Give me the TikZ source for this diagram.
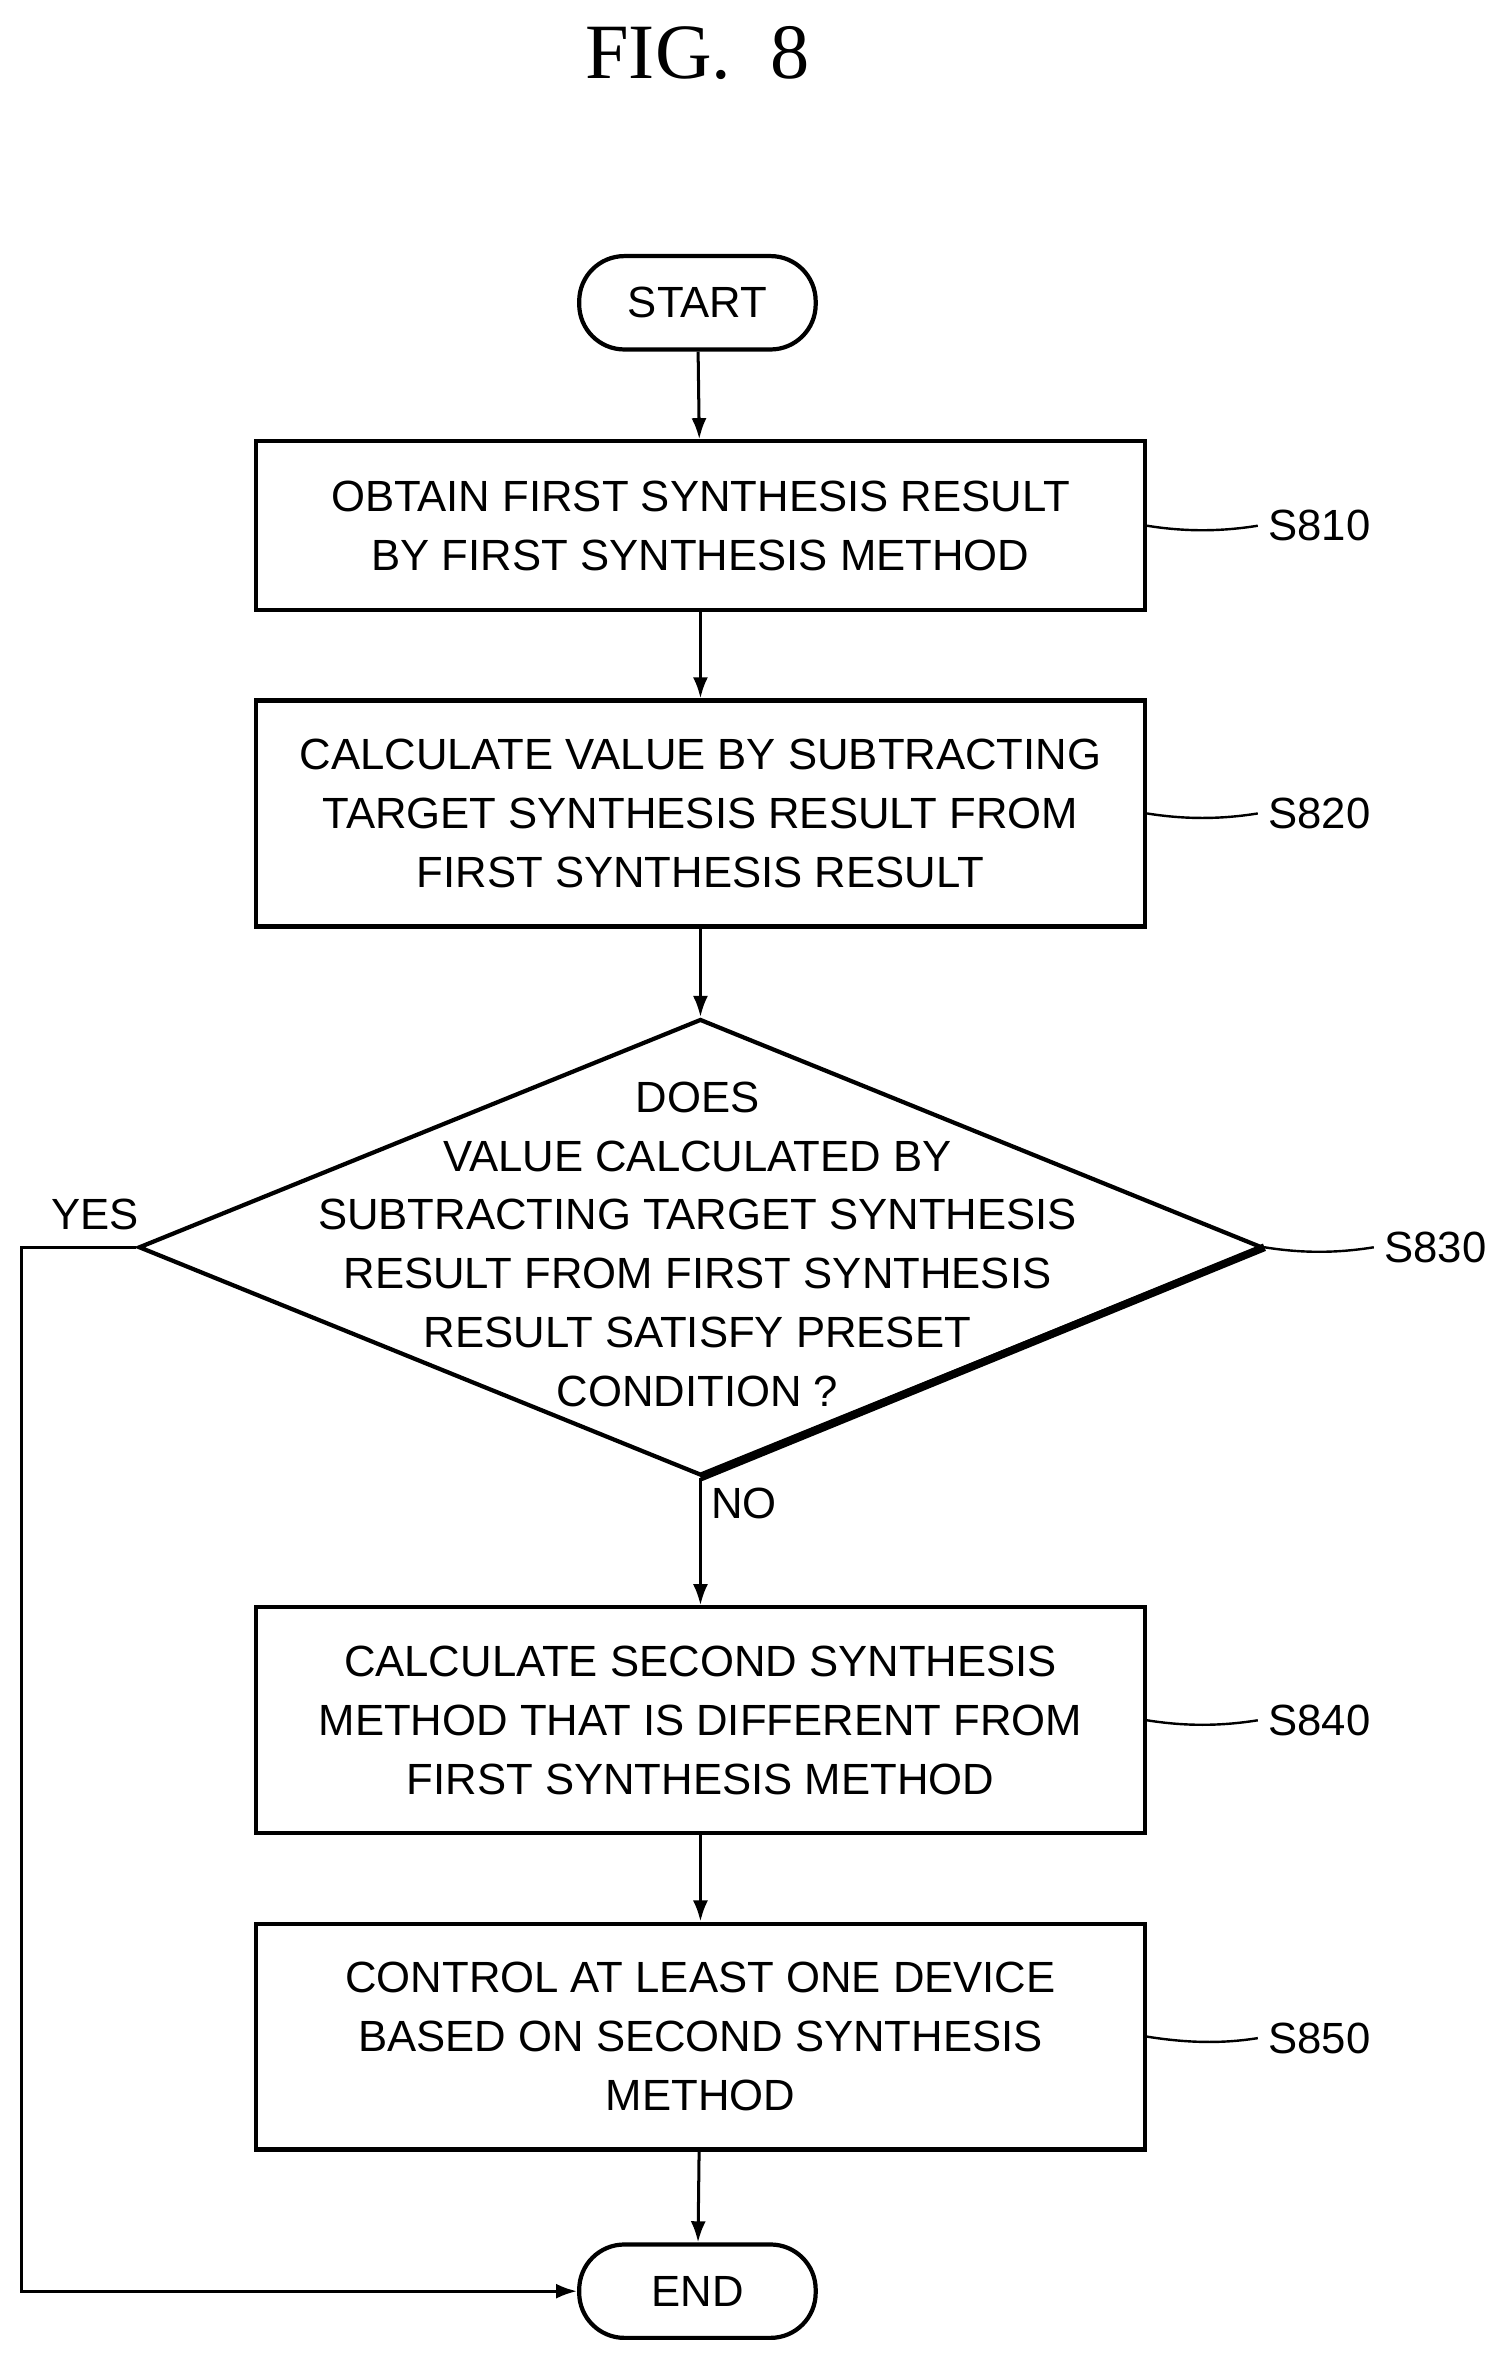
\documentclass[tikz,border=0pt]{standalone}
\usepackage{fontspec}
\setmainfont{Liberation Sans}
\newfontfamily\titlefont{Liberation Serif}
\usetikzlibrary{shapes.geometric,arrows.meta}
\begin{document}
\begin{tikzpicture}[x=0.5pt,y=-0.5pt,
  every node/.style={font=\fontsize{14.5}{19.5}\selectfont, align=center},
  box/.style={draw, line width=1.4pt, minimum width=295pt, minimum height=56pt, inner sep=0},
  tall/.style={box, minimum height=75pt},
  term/.style={draw, line width=1.4pt, rounded corners=15pt, minimum width=78.5pt, minimum height=31pt, inner sep=0},
  lbl/.style={anchor=west},
  arr/.style={line width=1pt, -{Latex[length=7pt,width=5pt]}},
  lead/.style={line width=0.8pt}]
\useasboundingbox (0,0) rectangle (1000,1574);
\node[font=\titlefont\fontsize{26}{30}\selectfont] (title) at (463,35) {FIG.~~8};
\node[term] (start) at (463,201) {START};
\node[box] (s810) at (465,349) {OBTAIN FIRST SYNTHESIS RESULT\\BY FIRST SYNTHESIS METHOD};
\node[tall] (s820) at (465,540) {CALCULATE VALUE BY SUBTRACTING\\TARGET SYNTHESIS RESULT FROM\\FIRST SYNTHESIS RESULT};
\node[draw, line width=1.4pt, diamond, minimum width=373pt, minimum height=151.5pt, inner sep=0] (s830) at (465,828) {};
\node at (463,826) {DOES\\VALUE CALCULATED BY\\SUBTRACTING TARGET SYNTHESIS\\RESULT FROM FIRST SYNTHESIS\\RESULT SATISFY PRESET\\CONDITION ?};
\draw[line width=2.6pt] (s830.east) -- (s830.south);
\node[tall] (s840) at (465,1142) {CALCULATE SECOND SYNTHESIS\\METHOD THAT IS DIFFERENT FROM\\FIRST SYNTHESIS METHOD};
\node[tall] (s850) at (465,1352) {CONTROL AT LEAST ONE DEVICE\\BASED ON SECOND SYNTHESIS\\METHOD};
\node[term] (end) at (463,1521) {END};
\node[lbl] (l810) at (835,349) {S810};
\node[lbl] (l820) at (835,540) {S820};
\node[lbl] (l830) at (912,828) {S830};
\node[lbl] (l840) at (835,1142) {S840};
\node[lbl] (l850) at (835,1353) {S850};
\foreach \b/\l in {s810/l810,s820/l820,s830/l830,s840/l840,s850/l850}
  \draw[lead] (\b.east) .. controls +(25,4) and +(-25,4) .. (\l.west);
\node (yes) at (63,806) {YES};
\node (no) at (494,998) {NO};
\coordinate (c1) at (14,828);
\coordinate (c2) at (14,1521);
\draw[arr] (start) -- (s810);
\draw[arr] (s810) -- (s820);
\draw[arr] (s820) -- (s830);
\draw[arr] (s830.south) -- (s840);
\draw[arr] (s840) -- (s850);
\draw[arr] (s850) -- (end);
\draw[arr] (s830.west) -- (c1) -- (c2) -- (end.west);
\end{tikzpicture}
\end{document}
